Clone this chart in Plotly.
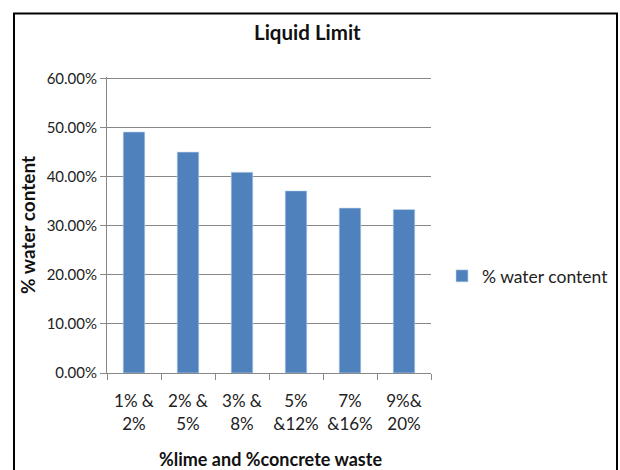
import plotly.graph_objects as go

categories = ["1% &<br>2%", "2% &<br>5%", "3% &<br>8%", "5%<br>&12%", "7%<br>&16%", "9%&<br>20%"]
water_content = [0.491, 0.450, 0.409, 0.371, 0.336, 0.333]
series_name = "% water content"
y_ticks = [0, 0.1, 0.2, 0.3, 0.4, 0.5, 0.6]
y_tick_labels = ["0.00%", "10.00%", "20.00%", "30.00%", "40.00%", "50.00%", "60.00%"]

FONT = "Lato, 'Open Sans', sans-serif"
L, R, T, B = 107, 189, 77, 97
PW, PH = 620 - L - R, 470 - T - B

def px_x(px):
    return (px - L) / PW

def px_y(py):
    return (470 - B - py) / PH

fig = go.Figure()
fig.add_trace(go.Bar(
    x=categories, y=water_content, name=series_name,
    marker=dict(color="#4F81BD", line=dict(color="#C6D6EC", width=0.6)),
    width=0.4, showlegend=True,
))

fig.update_layout(
    width=620, height=470,
    margin=dict(l=L, r=R, t=T, b=B, autoexpand=False),
    paper_bgcolor="white", plot_bgcolor="white",
    font=dict(family=FONT, size=15, color="#222222"),
    showlegend=True,
    legend=dict(x=px_x(442), y=px_y(276), xanchor="left", yanchor="middle",
                font=dict(size=17.5, color="#222222"), bgcolor="rgba(0,0,0,0)",
                itemwidth=30),
    xaxis=dict(
        type="category", showgrid=False, showline=True, linecolor="#888888",
        linewidth=1, ticks="outside", tickson="boundaries", ticklen=6,
        tickcolor="#888888", tickfont=dict(size=17, color="#222222"),
        tickangle=0, ticklabelstandoff=13, range=[-0.5, 5.5],
    ),
    yaxis=dict(
        range=[0, 0.603], tickvals=y_ticks, ticktext=y_tick_labels,
        showgrid=True, gridcolor="#878787", gridwidth=1,
        showline=True, linecolor="#888888", linewidth=1,
        ticks="outside", ticklen=6, tickcolor="#888888",
        tickfont=dict(size=15, color="#222222"), zeroline=False,
    ),
    annotations=[
        dict(text="<b>Liquid Limit</b>", x=px_x(307), y=px_y(32),
             xref="paper", yref="paper", showarrow=False,
             font=dict(size=20.5, color="#111111"), xanchor="center", yanchor="middle"),
        dict(text="<b>%lime and %concrete waste</b>", x=px_x(270), y=px_y(459),
             xref="paper", yref="paper", showarrow=False,
             font=dict(size=18, color="#111111"), xanchor="center", yanchor="middle"),
        dict(text="<b>% water content</b>", x=px_x(27), y=px_y(225),
             xref="paper", yref="paper", showarrow=False, textangle=-90,
             font=dict(size=19, color="#111111"), xanchor="center", yanchor="middle"),
    ],
    shapes=[
        dict(type="rect", xref="paper", yref="paper",
             x0=px_x(14), x1=px_x(617), y0=px_y(500), y1=px_y(13.5),
             line=dict(color="black", width=2), fillcolor="rgba(0,0,0,0)", layer="above"),
    ],
)

fig.write_html("out.html", config={"displayModeBar": False},
               post_script="document.body.style.margin='0px';")
